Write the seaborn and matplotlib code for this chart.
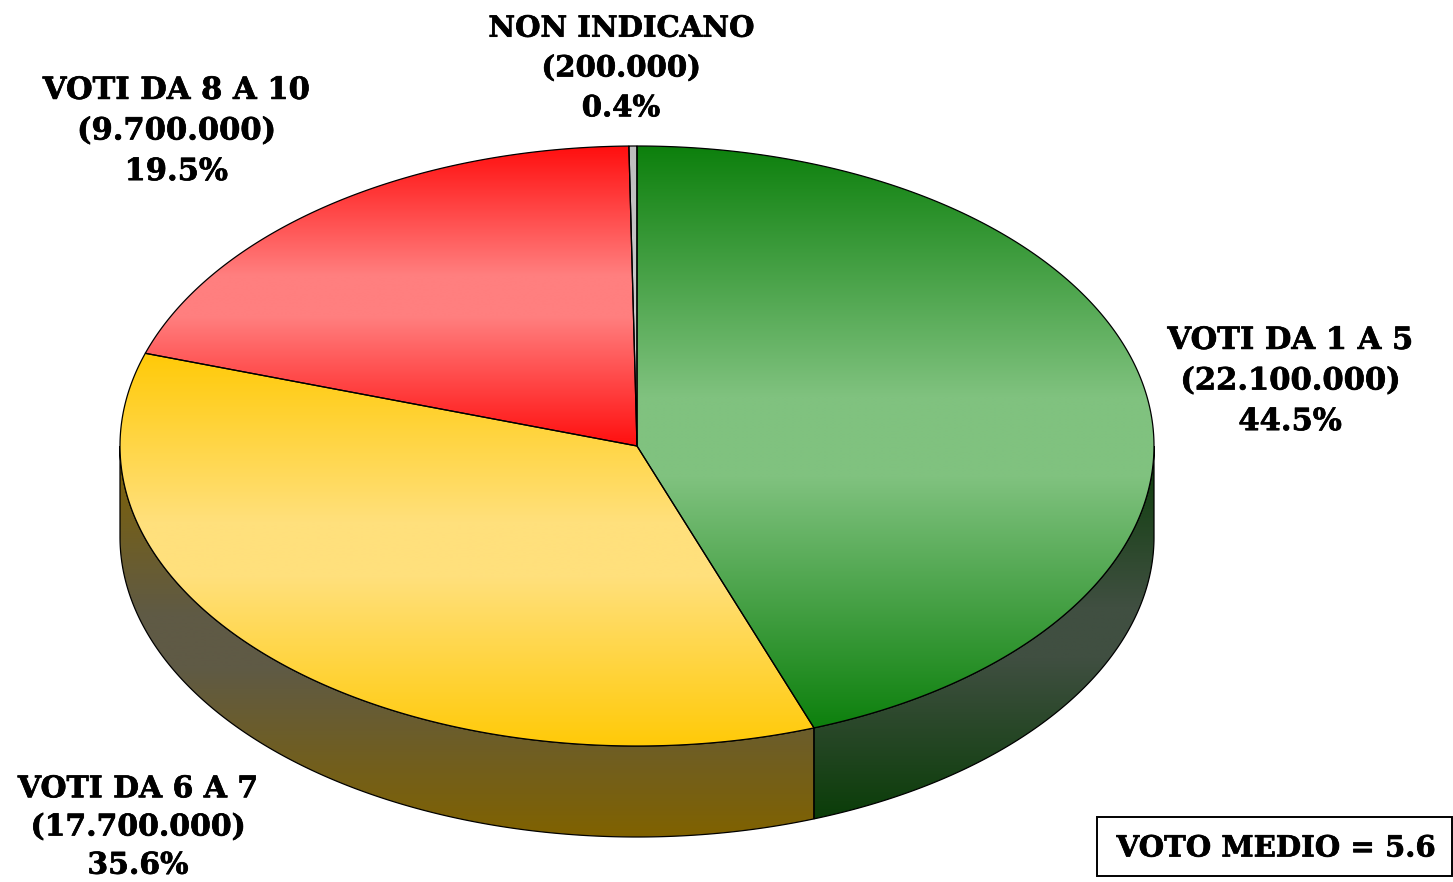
import numpy as np
import matplotlib
matplotlib.use("Agg")
import matplotlib.pyplot as plt
import matplotlib.patheffects as pe
from matplotlib.colors import to_rgb
from matplotlib.patches import Polygon, Rectangle
import seaborn as sns

# data
categories = ["VOTI DA 1 A 5", "VOTI DA 6 A 7", "VOTI DA 8 A 10", "NON INDICANO"]
voters = ["22.100.000", "17.700.000", "9.700.000", "200.000"]
percent = [44.5, 35.6, 19.5, 0.4]
drawn_share = [44.44, 35.56, 19.75, 0.25]  # slice sizes
edge_cols = ["#0D800D", "#FFCA08", "#FF0F0F", "#BEBEBE"]
mid_cols = ["#80C27F", "#FFE07C", "#FF7F7F", "#C8C8C8"]
side_edge = ["#0A3D08", "#806200", "#800000", "#555555"]
side_mid = ["#404F41", "#5F5A45", "#5A3030", "#555555"]
note = "VOTO MEDIO = 5.6"
label_xy = [(1290, 381), (138, 827), (176, 131), (621, 68)]
label_size = [22, 21.5, 22, 21]
label_spacing = [1.4, 1.4, 1.4, 1.47]

W, H = 1453, 882
CX, CY, RX, RY, DEPTH = 637.0, 446.0, 517.0, 300.0, 91.0
RAMP_SPAN = 0.43  # share of a slice's height over which the shade changes

sns.set_theme(style="white")
plt.rcParams["font.family"] = ["DejaVu Serif"]
fig = plt.figure(figsize=(W / 100, H / 100), dpi=100, facecolor="white")
ax = fig.add_axes([0, 0, 1, 1])
ax.set_xlim(0, W)
ax.set_ylim(H, 0)
ax.axis("off")


def rim(a0, a1, n=300):
    """Points on the top ellipse; angles in degrees clockwise from 12 o'clock."""
    t = np.radians(np.linspace(a0, a1, n))
    return CX + RX * np.sin(t), CY - RY * np.cos(t)


def grad_fill(poly, c_edge, c_mid, zorder):
    ramp = np.array([to_rgb(c) for c in sns.blend_palette([c_edge, c_mid], n_colors=256)])
    s = np.linspace(0, 1, 512)
    idx = np.clip(np.minimum(s, 1 - s) / RAMP_SPAN, 0, 1) * 255
    img = ramp[idx.astype(int)][:, None, :]
    pts = poly.get_xy()
    im = ax.imshow(img, extent=(pts[:, 0].min(), pts[:, 0].max(),
                                pts[:, 1].max(), pts[:, 1].min()),
                   aspect="auto", zorder=zorder, interpolation="bilinear")
    ax.add_patch(poly)
    im.set_clip_path(poly)


edges = np.concatenate([[0], np.cumsum(drawn_share)]) * 360 / np.sum(drawn_share)

# side wall: only the part of each slice on the front half of the ellipse
for i in range(len(drawn_share)):
    a0, a1 = max(edges[i], 90), min(edges[i + 1], 270)
    if a1 <= a0:
        continue
    x, y = rim(a0, a1)
    xy = np.vstack([np.c_[x, y], np.c_[x[::-1], y[::-1] + DEPTH]])
    poly = Polygon(xy, closed=True, fc="none", ec="black", lw=0.9, zorder=3)
    grad_fill(poly, side_edge[i], side_mid[i], 2)

# top face: each slice has its own vertical gradient over its own extent
for i in range(len(drawn_share)):
    x, y = rim(edges[i], edges[i + 1])
    xy = np.vstack([[CX, CY], np.c_[x, y]])
    poly = Polygon(xy, closed=True, fc="none", ec="black", lw=0.9, zorder=5)
    grad_fill(poly, edge_cols[i], mid_cols[i], 4)

ax.set_xlim(0, W)
ax.set_ylim(H, 0)

stroke = [pe.withStroke(linewidth=0.5, foreground="black")]
for name, n, p, (tx, ty), fs, ls in zip(categories, voters, percent, label_xy,
                                        label_size, label_spacing):
    ax.text(tx, ty, f"{name}\n({n})\n{p}%", ha="center", va="center",
            fontsize=fs, fontweight="bold", color="black", linespacing=ls,
            zorder=8, path_effects=stroke)

ax.add_patch(Rectangle((1097, 817), 355, 59, fc="white", ec="black", lw=1.4, zorder=7))
ax.text(1276, 848, note, ha="center", va="center", fontsize=21,
        fontweight="bold", color="black", zorder=8, path_effects=stroke)

fig.savefig("out.png", dpi=100, facecolor="white")
